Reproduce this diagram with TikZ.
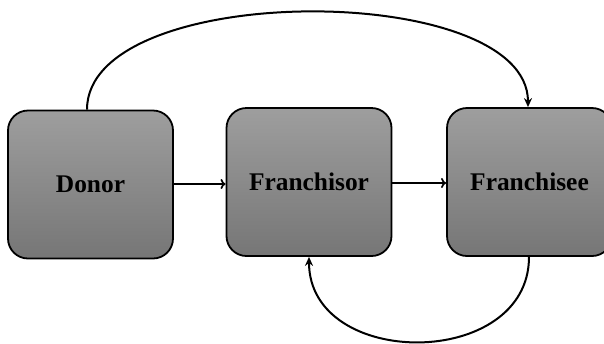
\documentclass[tikz,border=0pt]{standalone}
\usepackage{fontspec}
\setmainfont{Liberation Serif}
\usetikzlibrary{arrows.meta}
\definecolor{boxtop}{RGB}{158,158,158}
\definecolor{boxbottom}{RGB}{118,118,118}
\tikzset{
  party/.style={draw=black, line width=1.8bp, rounded corners=20bp,
    top color=boxtop, bottom color=boxbottom, minimum width=165bp,
    minimum height=148bp, inner sep=0pt, font=\bfseries\fontsize{25.5}{28}\selectfont},
  flow/.style={line width=1.8bp, -{To[length=5bp,width=10bp,line width=1.6bp]}},
  loop/.style={line width=2bp, -{Stealth[length=9bp,width=8bp]}}
}
\begin{document}
\begin{tikzpicture}[x=1bp,y=-1bp]
\useasboundingbox (0,0) rectangle (604,343);
\node[party] (donor) at (90.5,184.5) {Donor};
\node[party] (franchisor) at (309,182) {Franchisor};
\node[party] (franchisee) at (529.5,182) {Franchisee};
\draw[flow] (donor.east |- 0,184) -- (franchisor.west |- 0,184);
\draw[flow] (franchisor.east |- 0,183) -- (franchisee.west |- 0,183);
\coordinate (topstart) at (donor.north -| 87,0);
\coordinate (topend) at (franchisee.north -| 528,0);
\draw[loop] (topstart) .. controls (87,-20) and (528,-20) .. (topend);
\coordinate (botstart) at (franchisee.south -| 529,0);
\coordinate (botend) at (franchisor.south -| 309,0);
\draw[loop] (botstart) .. controls (529,370) and (309,370) .. (botend);
\end{tikzpicture}
\end{document}
